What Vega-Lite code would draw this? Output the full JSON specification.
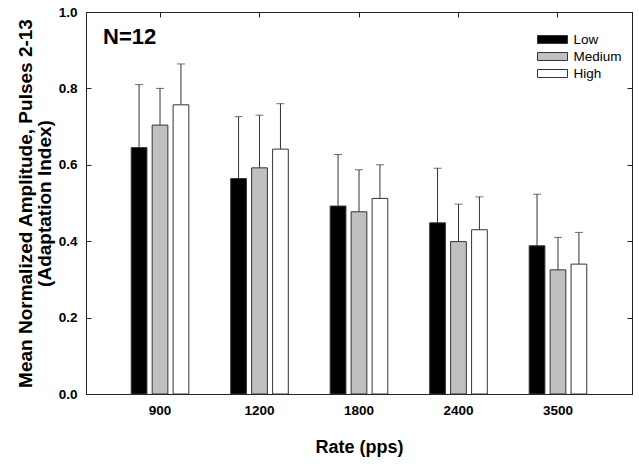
{
  "$schema": "https://vega.github.io/schema/vega-lite/v6.json",
  "width": 546,
  "height": 382,
  "autosize": {"type": "none"},
  "padding": {"left": 86, "top": 12, "right": 7, "bottom": 72},
  "background": "white",
  "title": {"text": "N=12", "anchor": "start", "frame": "group", "orient": "top", "baseline": "alphabetic", "offset": -61, "dx": 17, "font": "Liberation Sans", "fontSize": 22, "fontWeight": "bold", "color": "black"},
  "config": {
    "view": {"stroke": "#222", "strokeWidth": 1},
    "axis": {"grid": false, "domainColor": "#222", "tickColor": "#222", "labelFont": "Liberation Sans", "labelFontWeight": "bold", "labelFontSize": 13.5, "labelColor": "black", "titleFont": "Liberation Sans", "titleFontWeight": "bold", "titleFontSize": 18, "titleColor": "black", "tickSize": -5}
  },
  "data": {"values": [
    {"rate": "900", "level": "Low", "mean": 0.645, "upper": 0.81},
    {"rate": "900", "level": "Medium", "mean": 0.704, "upper": 0.80},
    {"rate": "900", "level": "High", "mean": 0.757, "upper": 0.864},
    {"rate": "1200", "level": "Low", "mean": 0.564, "upper": 0.726},
    {"rate": "1200", "level": "Medium", "mean": 0.592, "upper": 0.730},
    {"rate": "1200", "level": "High", "mean": 0.641, "upper": 0.760},
    {"rate": "1800", "level": "Low", "mean": 0.492, "upper": 0.627},
    {"rate": "1800", "level": "Medium", "mean": 0.477, "upper": 0.587},
    {"rate": "1800", "level": "High", "mean": 0.512, "upper": 0.600},
    {"rate": "2400", "level": "Low", "mean": 0.448, "upper": 0.591},
    {"rate": "2400", "level": "Medium", "mean": 0.399, "upper": 0.497},
    {"rate": "2400", "level": "High", "mean": 0.430, "upper": 0.516},
    {"rate": "3500", "level": "Low", "mean": 0.388, "upper": 0.523},
    {"rate": "3500", "level": "Medium", "mean": 0.325, "upper": 0.410},
    {"rate": "3500", "level": "High", "mean": 0.340, "upper": 0.423}
  ]},
  "encoding": {
    "x": {"field": "rate", "type": "nominal", "sort": ["900", "1200", "1800", "2400", "3500"], "axis": null, "scale": {"paddingInner": 0, "paddingOuter": 0.244}},
    "xOffset": {"field": "level", "type": "nominal", "sort": ["Low", "Medium", "High"], "scale": {"paddingInner": 0.25, "paddingOuter": 1.11}}
  },
  "layer": [
    {
      "mark": {"type": "rule", "color": "#333", "strokeWidth": 1},
      "encoding": {
        "y": {"field": "mean", "type": "quantitative", "axis": null},
        "y2": {"field": "upper"}
      }
    },
    {
      "mark": {"type": "tick", "color": "#333", "thickness": 1, "size": 8},
      "encoding": {
        "y": {"field": "upper", "type": "quantitative", "axis": null}
      }
    },
    {
      "mark": {"type": "bar", "stroke": "#333", "strokeWidth": 1},
      "encoding": {
        "x": {"field": "rate", "type": "nominal", "sort": ["900", "1200", "1800", "2400", "3500"], "title": "Rate (pps)", "axis": {"orient": "bottom", "labelAngle": 0, "labelPadding": 14, "titleY": 44, "titleBaseline": "top"}},
        "y": {"field": "mean", "type": "quantitative", "scale": {"domain": [0, 1]}, "title": ["Mean Normalized Amplitude, Pulses 2-13", "(Adaptation Index)"], "axis": {"orient": "left", "values": [0, 0.2, 0.4, 0.6, 0.8, 1.0], "format": ".1f", "labelPadding": 14, "titleX": -51, "titleFontSize": 19, "titleLineHeight": 19}},
        "fill": {"field": "level", "type": "nominal", "sort": ["Low", "Medium", "High"], "scale": {"domain": ["Low", "Medium", "High"], "range": ["#000000", "#c0c0c0", "#ffffff"]}, "legend": {"title": null, "orient": "none", "legendX": 458.5, "legendY": 19.5, "padding": 0, "symbolType": "M-2,-0.533H2V0.533H-2Z", "symbolSize": 225, "symbolStrokeColor": "#333", "symbolStrokeWidth": 1, "symbolOpacity": 1, "labelOffset": 13, "rowPadding": 2, "labelFont": "Liberation Sans", "labelFontSize": 13.5, "labelColor": "black"}}
      }
    },
    {
      "mark": {"type": "rule", "opacity": 0},
      "encoding": {
        "x": {"field": "rate", "type": "nominal", "sort": ["900", "1200", "1800", "2400", "3500"], "axis": {"orient": "top", "labels": false, "title": null}},
        "y": {"field": "mean", "type": "quantitative", "axis": {"orient": "right", "labels": false, "title": null, "values": [0, 0.2, 0.4, 0.6, 0.8, 1.0]}}
      }
    }
  ],
  "resolve": {"axis": {"x": "independent", "y": "independent"}}
}
